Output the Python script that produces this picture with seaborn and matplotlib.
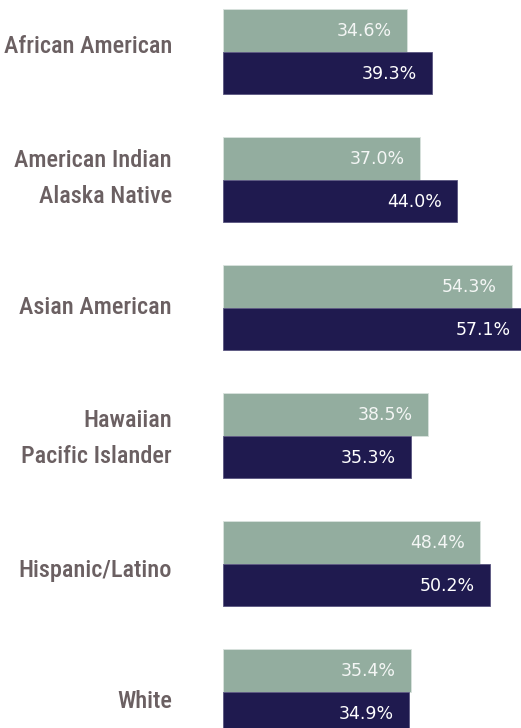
import pandas as pd
import matplotlib
matplotlib.use("Agg")
import matplotlib.pyplot as plt
import seaborn as sns
from matplotlib import font_manager

# ==========================================
# DATA
# ==========================================
groups = ["African American", "American Indian\nAlaska Native", "Asian American",
          "Hawaiian\nPacific Islander", "Hispanic/Latino", "White"]
series_names = ["Series A", "Series B"]
series_a = [34.6, 37.0, 54.3, 38.5, 48.4, 35.4]
series_b = [39.3, 44.0, 57.1, 35.3, 50.2, 34.9]

df = pd.DataFrame({
    "group": groups * 2,
    "series": [series_names[0]] * len(groups) + [series_names[1]] * len(groups),
    "value": series_a + series_b,
})

# ==========================================
# FONTS
# ==========================================
installed = {f.name for f in font_manager.fontManager.ttflist}
label_font = next((f for f in ["Roboto Condensed", "Liberation Sans Narrow",
                               "DejaVu Sans Condensed", "Open Sans Condensed",
                               "Roboto"] if f in installed), "DejaVu Sans")
value_font = "DejaVu Sans"

GREEN = "#93ad9f"
NAVY = "#1f1a4f"
LABEL_COLOR = "#6b6062"

sns.set_style("white")

# ==========================================
# PLOT
# ==========================================
fig = plt.figure(figsize=(5.21, 7.28), dpi=100)
left = 223.3 / 521
ax = fig.add_axes([left, 0, 1 - left, 1])

sns.barplot(data=df, y="group", x="value", hue="series", order=groups,
            hue_order=series_names, palette=[GREEN, NAVY], width=0.667,
            orient="h", dodge=True, legend=False, ax=ax, saturation=1)

for patch in ax.patches:
    fc = patch.get_facecolor()
    patch.set_edgecolor("#d9e3de" if fc[1] > 0.5 else "#5a5680")
    patch.set_linewidth(0.6)

ax.set_xlim(0, 56.06)
ax.set_ylim(5.284, -0.404)

# value labels inside bar ends
for container, txt_color in zip(ax.containers, ["#f4f6f5", "white"]):
    for bar in container:
        w = bar.get_width()
        yc = bar.get_y() + bar.get_height() / 2
        ax.annotate(f"{w:.1f}%", xy=(w, yc), xytext=(-11, -0.5),
                    textcoords="offset points", ha="right", va="center",
                    color=txt_color, fontsize=12.5, family=value_font,
                    annotation_clip=False, clip_on=False)

# category labels
ax.set_yticks([])
ax.set_xticks([])
nudges = [4, 1, 0, -2, -5, -7]
for i, (name, dy) in enumerate(zip(groups, nudges)):
    ax.annotate(name, xy=(0, i), xytext=(-37, dy), textcoords="offset points",
                ha="right", va="center", multialignment="right",
                color=LABEL_COLOR, fontsize=17.5, family=label_font,
                fontweight="medium", linespacing=1.69, annotation_clip=False)

ax.set_xlabel("")
ax.set_ylabel("")
sns.despine(ax=ax, left=True, bottom=True)

fig.savefig("out.png", dpi=100)
